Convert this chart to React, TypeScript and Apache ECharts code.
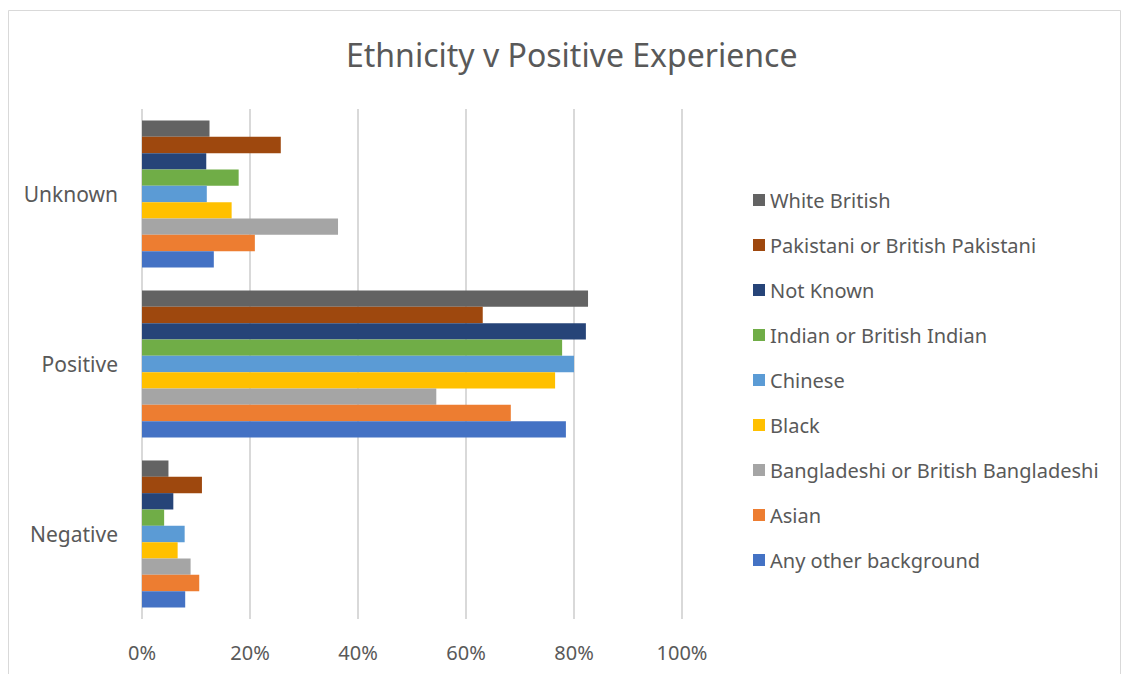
import React, { useEffect, useRef } from "react";
import * as echarts from "echarts";

const categories = ["Negative", "Positive", "Unknown"];
const seriesNames = [
  "White British",
  "Pakistani or British Pakistani",
  "Not Known",
  "Indian or British Indian",
  "Chinese",
  "Black",
  "Bangladeshi or British Bangladeshi",
  "Asian",
  "Any other background",
];
const seriesColors = [
  "#636363",
  "#9E480E",
  "#264478",
  "#70AD47",
  "#5B9BD5",
  "#FFC000",
  "#A5A5A5",
  "#ED7D31",
  "#4472C4",
];
// values per series: [Negative, Positive, Unknown] in %
const whiteBritish = [4.9, 82.6, 12.5];
const pakistani = [11.1, 63.1, 25.7];
const notKnown = [5.8, 82.2, 11.9];
const indian = [4.1, 77.8, 17.9];
const chinese = [7.9, 80.0, 12.0];
const black = [6.6, 76.5, 16.6];
const bangladeshi = [9.0, 54.5, 36.3];
const asian = [10.6, 68.3, 20.9];
const anyOther = [8.0, 78.5, 13.3];
const seriesValues = [whiteBritish, pakistani, notKnown, indian, chinese, black, bangladeshi, asian, anyOther];
const xTicks = [0, 20, 40, 60, 80, 100];

const FONT = "'Noto Sans', sans-serif";

export default function App() {
  const ref = useRef<HTMLDivElement>(null);
  useEffect(() => {
    if (!ref.current) return;
    const chart = echarts.init(ref.current, undefined, { renderer: "svg" });
    chart.setOption({
      animation: false,
      backgroundColor: "#ffffff",
      title: {
        text: "Ethnicity v Positive Experience",
        left: 341,
        top: 33,
        textStyle: { fontFamily: FONT, fontSize: 32, fontWeight: "normal", color: "#595959" },
      },
      graphic: [
        {
          type: "rect",
          shape: { x: 8.5, y: 10.5, width: 1112, height: 680 },
          style: { fill: "none", stroke: "#d9d9d9", lineWidth: 1 },
          silent: true,
        },
      ],
      legend: {
        orient: "vertical",
        left: 748,
        top: 184,
        itemWidth: 12,
        itemHeight: 12,
        itemGap: 23,
        icon: "rect",
        data: seriesNames,
        textStyle: { fontFamily: FONT, fontSize: 20, color: "#595959", lineHeight: 22 },
      },
      grid: { left: 142, right: 441, top: 109, bottom: 55, containLabel: false },
      xAxis: {
        type: "value",
        min: 0,
        max: 100,
        interval: 20,
        axisLine: { show: false },
        axisTick: { show: false },
        axisLabel: {
          margin: 23,
          fontFamily: FONT,
          fontSize: 20,
          color: "#595959",
          formatter: (v: number) => (xTicks.includes(v) ? v + "%" : ""),
        },
        splitLine: { show: true, lineStyle: { color: "#d9d9d9", width: 2 } },
      },
      yAxis: {
        type: "category",
        data: categories,
        axisLine: { show: false },
        axisTick: { show: false },
        axisLabel: { margin: 24, fontFamily: FONT, fontSize: 21, color: "#595959" },
      },
      series: seriesNames.map((name, i) => ({
        name,
        type: "bar",
        data: seriesValues[i],
        itemStyle: { color: seriesColors[i] },
        barGap: "0%",
        barCategoryGap: "13.5%",
      })),
    });
    return () => chart.dispose();
  }, []);
  return (
    <div
      ref={ref}
      style={{ position: "absolute", left: 0, top: 0, width: 1123, height: 674 }}
    />
  );
}
